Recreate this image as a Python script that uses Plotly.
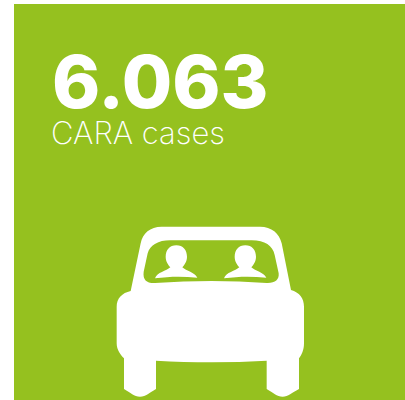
import plotly.graph_objects as go

value_label = ["6.063"]
unit_label = ["CARA cases"]
GREEN = "#95C11F"

def P(x, y):
    return f"{100 + x / 3:.2f},{215 + y / 3:.2f}"

def path(*cmds):
    out = []
    for c in cmds:
        out.append(c[0] + " ".join(P(*p) for p in c[1:]))
    return " ".join(out) + " Z"

body = path(
    ("M", (185, 35)), ("L", (480, 35)), ("C", (515, 35), (538, 55), (545, 85)),
    ("L", (573, 225)), ("C", (598, 232), (612, 250), (612, 275)),
    ("L", (612, 385)), ("C", (612, 405), (605, 420), (597, 430)),
    ("L", (597, 522)), ("C", (575, 533), (565, 545), (548, 545)), ("C", (530, 545), (520, 533), (500, 522)),
    ("L", (500, 437)), ("C", (390, 443), (280, 443), (168, 437)),
    ("L", (168, 522)), ("C", (148, 533), (138, 545), (120, 545)), ("C", (102, 545), (92, 533), (72, 522)),
    ("L", (72, 430)), ("C", (62, 420), (50, 405), (50, 385)),
    ("L", (50, 275)), ("C", (50, 250), (66, 234), (92, 228)),
    ("L", (122, 85)), ("C", (128, 55), (150, 35), (185, 35)),
)
window = path(
    ("M", (210, 76)), ("L", (455, 76)), ("C", (495, 76), (518, 92), (524, 120)),
    ("L", (536, 175)), ("C", (538, 195), (525, 205), (500, 204)),
    ("C", (390, 196), (280, 196), (165, 204)),
    ("C", (140, 205), (128, 195), (131, 170)),
    ("L", (143, 115)), ("C", (150, 90), (175, 76), (210, 76)),
)

def person(cx):
    return path(
        ("M", (cx, 91)), ("C", (cx + 20, 91), (cx + 32, 105), (cx + 32, 125)),
        ("C", (cx + 32, 140), (cx + 24, 150), (cx + 18, 157)),
        ("C", (cx + 30, 168), (cx + 55, 172), (cx + 63, 188)),
        ("C", (cx + 20, 184), (cx - 20, 184), (cx - 64, 190)),
        ("C", (cx - 58, 172), (cx - 30, 168), (cx - 18, 157)),
        ("C", (cx - 24, 150), (cx - 32, 140), (cx - 32, 125)),
        ("C", (cx - 32, 105), (cx - 20, 91), (cx, 91)),
    )

shapes = [
    dict(type="rect", x0=14, x1=405, y0=4, y1=400, fillcolor=GREEN, line_width=0, layer="below"),
    dict(type="path", path=body, fillcolor="white", line_width=0),
    dict(type="path", path=window, fillcolor=GREEN, line_width=0),
    dict(type="path", path=person(229), fillcolor="white", line_width=0),
    dict(type="path", path=person(436), fillcolor="white", line_width=0),
]

fig = go.Figure()
fig.update_layout(
    width=405, height=400, margin=dict(l=0, r=0, t=0, b=0),
    paper_bgcolor="white", plot_bgcolor="white", showlegend=False,
    xaxis=dict(range=[0, 405], visible=False, fixedrange=True),
    yaxis=dict(range=[400, 0], visible=False, fixedrange=True),
    shapes=shapes,
    annotations=[
        dict(x=50, y=81.5, xref="x", yref="y", text=value_label[0], showarrow=False, xanchor="left", yanchor="middle",
             font=dict(family="Inter", size=73, color="white", weight=800)),
        dict(x=49, y=132, xref="x", yref="y", text=unit_label[0], showarrow=False, xanchor="left", yanchor="middle",
             font=dict(family="Inter", size=31, color="white", weight=200)),
    ],
)
fig.write_html("out.html", config=dict(displayModeBar=False),
               post_script="document.body.style.margin='0';document.body.style.overflow='hidden';")
